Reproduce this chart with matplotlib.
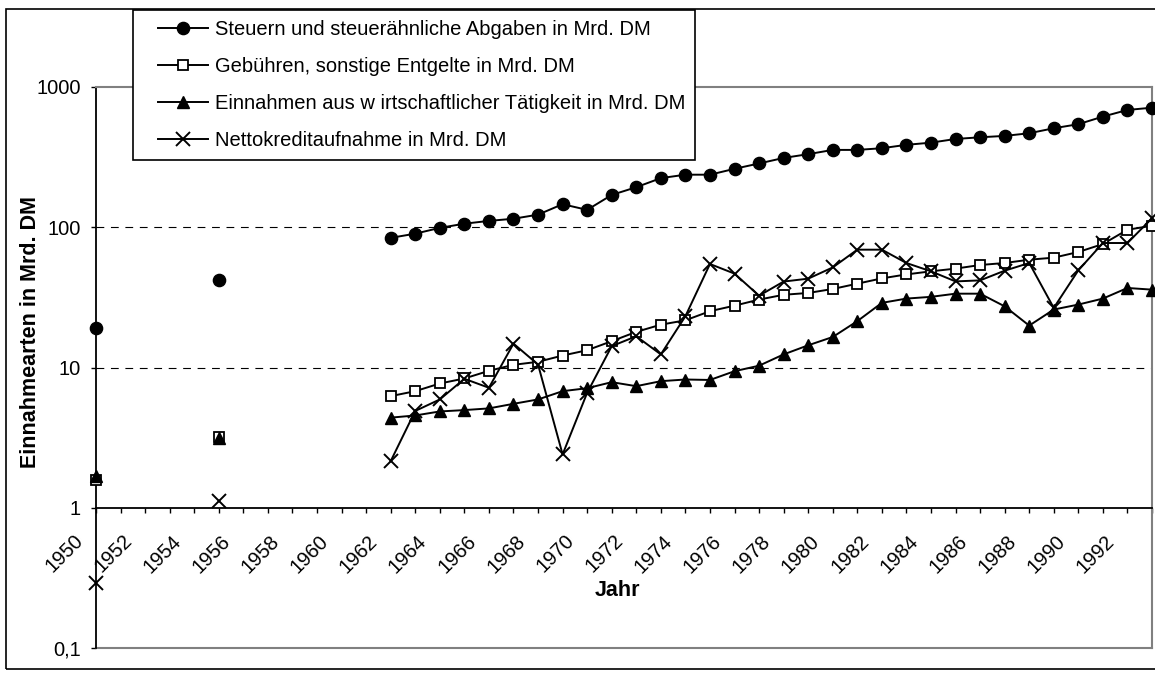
import matplotlib
matplotlib.use('Agg')
import matplotlib.pyplot as plt
import numpy as np
from matplotlib.patches import Rectangle
from matplotlib.ticker import NullLocator
from matplotlib.transforms import ScaledTranslation

plt.rcParams['font.family'] = ['Liberation Sans', 'DejaVu Sans']

# Jahre 1950..1993, Luecken (None) zwischen den Einzelwerten
jahre = list(range(1950, 1994))
luecke = [None] * 6

steuern_frueh = [19.2, None, None, None, None, 42.3]
steuern_ab1962 = [84, 90, 99, 106, 111, 115, 123, 146, 133, 170, 193, 224, 237, 237, 261, 285,
                  312, 332, 356, 356, 366, 387, 401, 426, 438, 448, 468, 508, 543, 615, 686, 712]

gebuehren_frueh = [1.58, None, None, None, None, 3.21]
gebuehren_ab1962 = [6.25, 6.78, 7.69, 8.35, 9.47, 10.45, 10.98, 12.17, 13.28, 15.4, 17.95, 20.2,
                    21.7, 25.2, 27.6, 30.5, 33.0, 34.0, 36.3, 39.6, 43.2, 46.1, 48.5, 50.7, 53.8,
                    55.6, 58.7, 60.7, 66.6, 75.9, 96, 102.5]

wirtschaft_frueh = [1.68, None, None, None, None, 3.15]
wirtschaft_ab1962 = [4.39, 4.55, 4.86, 4.97, 5.11, 5.51, 5.92, 6.78, 7.12, 7.86, 7.36, 7.99, 8.21,
                     8.15, 9.41, 10.3, 12.4, 14.4, 16.5, 21.4, 28.9, 31.0, 31.9, 33.6, 33.6, 27.3,
                     19.9, 25.9, 28.1, 31.0, 36.9, 35.9]

kredit_frueh = [0.29, None, None, None, None, 1.12]
kredit_ab1962 = [2.15, 4.9, 5.92, 8.31, 7.17, 14.8, 10.5, 2.40, 6.6, 14.2, 16.7, 12.4, 23.2, 54.7,
                 46.7, 32.5, 41, 43, 51.7, 69.2, 69.2, 55.6, 48.5, 41.1, 41.8, 49, 55.6, 26.6,
                 49.3, 77.2, 77.2, 116]

namen = ["Steuern und steuerähnliche Abgaben in Mrd. DM",
         "Gebühren, sonstige Entgelte in Mrd. DM",
         "Einnahmen aus w irtschaftlicher Tätigkeit in Mrd. DM",
         "Nettokreditaufnahme in Mrd. DM"]

y_ticks = [0.1, 1, 10, 100, 1000]
y_labels = ['0,1', '1', '10', '100', '1000']

steuern = np.array(steuern_frueh + luecke + steuern_ab1962, dtype=float)
gebuehren = np.array(gebuehren_frueh + luecke + gebuehren_ab1962, dtype=float)
wirtschaft = np.array(wirtschaft_frueh + luecke + wirtschaft_ab1962, dtype=float)
kredit = np.array(kredit_frueh + luecke + kredit_ab1962, dtype=float)

W, H = 1155, 677
fig = plt.figure(figsize=(W / 100, H / 100), dpi=100)
ax = fig.add_axes([96 / W, 1 - 648 / H, (1152 - 96) / W, (648 - 87) / H])

fs = 14.5
ax.plot(jahre, steuern, color='black', lw=1.4, marker='o', ms=8.8, mfc='black', mec='black',
        clip_on=False, zorder=3, label=namen[0])
ax.plot(jahre, gebuehren, color='black', lw=1.4, marker='s', ms=7.8, mfc='white', mec='black',
        mew=1.3, clip_on=False, zorder=3, label=namen[1])
ax.plot(jahre, wirtschaft, color='black', lw=1.4, marker='^', ms=9, mfc='black', mec='black',
        clip_on=False, zorder=3, label=namen[2])
ax.plot(jahre, kredit, color='black', lw=1.4, marker='x', ms=9.5, mew=1.4, clip_on=False,
        zorder=3, label=namen[3])

for v in [10, 100]:
    ax.axhline(v, color='black', lw=0.8, dashes=(7, 6), zorder=1)

ax.set_yscale('log')
ax.set_xlim(1950, 1993)
ax.set_ylim(0.1, 1000)

ax.spines['bottom'].set_position(('data', 1))
ax.spines['bottom'].set_color('black')
ax.spines['bottom'].set_linewidth(1.3)
ax.spines['left'].set_color('black')
ax.spines['left'].set_linewidth(1.3)
for s in ['top', 'right']:
    ax.spines[s].set_color('#808080')
    ax.spines[s].set_linewidth(1.5)
ax.axhline(0.1, color='#808080', lw=1.5, clip_on=False, zorder=2)

ax.set_yticks(y_ticks)
ax.set_yticklabels(y_labels)
ax.yaxis.set_minor_locator(NullLocator())
ax.tick_params(axis='y', length=3.8, width=1, pad=7, labelsize=fs)

ax.set_xticks(range(1950, 1993, 2))
ax.set_xticks(jahre, minor=True)
ax.set_xticklabels([str(j) for j in range(1950, 1993, 2)], rotation=45, ha='right', va='center',
                   rotation_mode='anchor')
ax.tick_params(axis='x', which='both', length=3.8, width=1, direction='out')
ax.tick_params(axis='x', which='major', pad=18, labelsize=fs)
versatz = ScaledTranslation(-0.16, 0, fig.dpi_scale_trans)
for lbl in ax.get_xticklabels():
    lbl.set_transform(lbl.get_transform() + versatz)

fig.text(31 / W, 1 - 332 / H, 'Einnahmearten in Mrd. DM', rotation=90, ha='center', va='center',
         fontsize=15.5, fontweight='bold')
fig.text(617 / W, 1 - 591 / H, 'Jahr', ha='center', va='center', fontsize=15.5, fontweight='bold')

# Legende mit eigenem Rahmen
rahmen = Rectangle((133 / W, 1 - 160 / H), (695 - 133) / W, 150 / H, transform=fig.transFigure,
                   fc='white', ec='black', lw=1.2, zorder=4)
fig.patches.append(rahmen)
h, l = ax.get_legend_handles_labels()
fig.legend(h, l, loc='upper left', bbox_to_anchor=(158 / W, 1 - 20 / H), frameon=False,
           borderpad=0, borderaxespad=0, handlelength=2.5, handletextpad=0.35,
           labelspacing=0.89, fontsize=fs)

# aeusserer Rahmen
fig.patches.append(Rectangle((6 / W, 1 - 669 / H), 1.2, (669 - 9) / H, transform=fig.transFigure,
                             fill=False, ec='black', lw=1.2, zorder=0))

fig.savefig('out.png', dpi=100)
